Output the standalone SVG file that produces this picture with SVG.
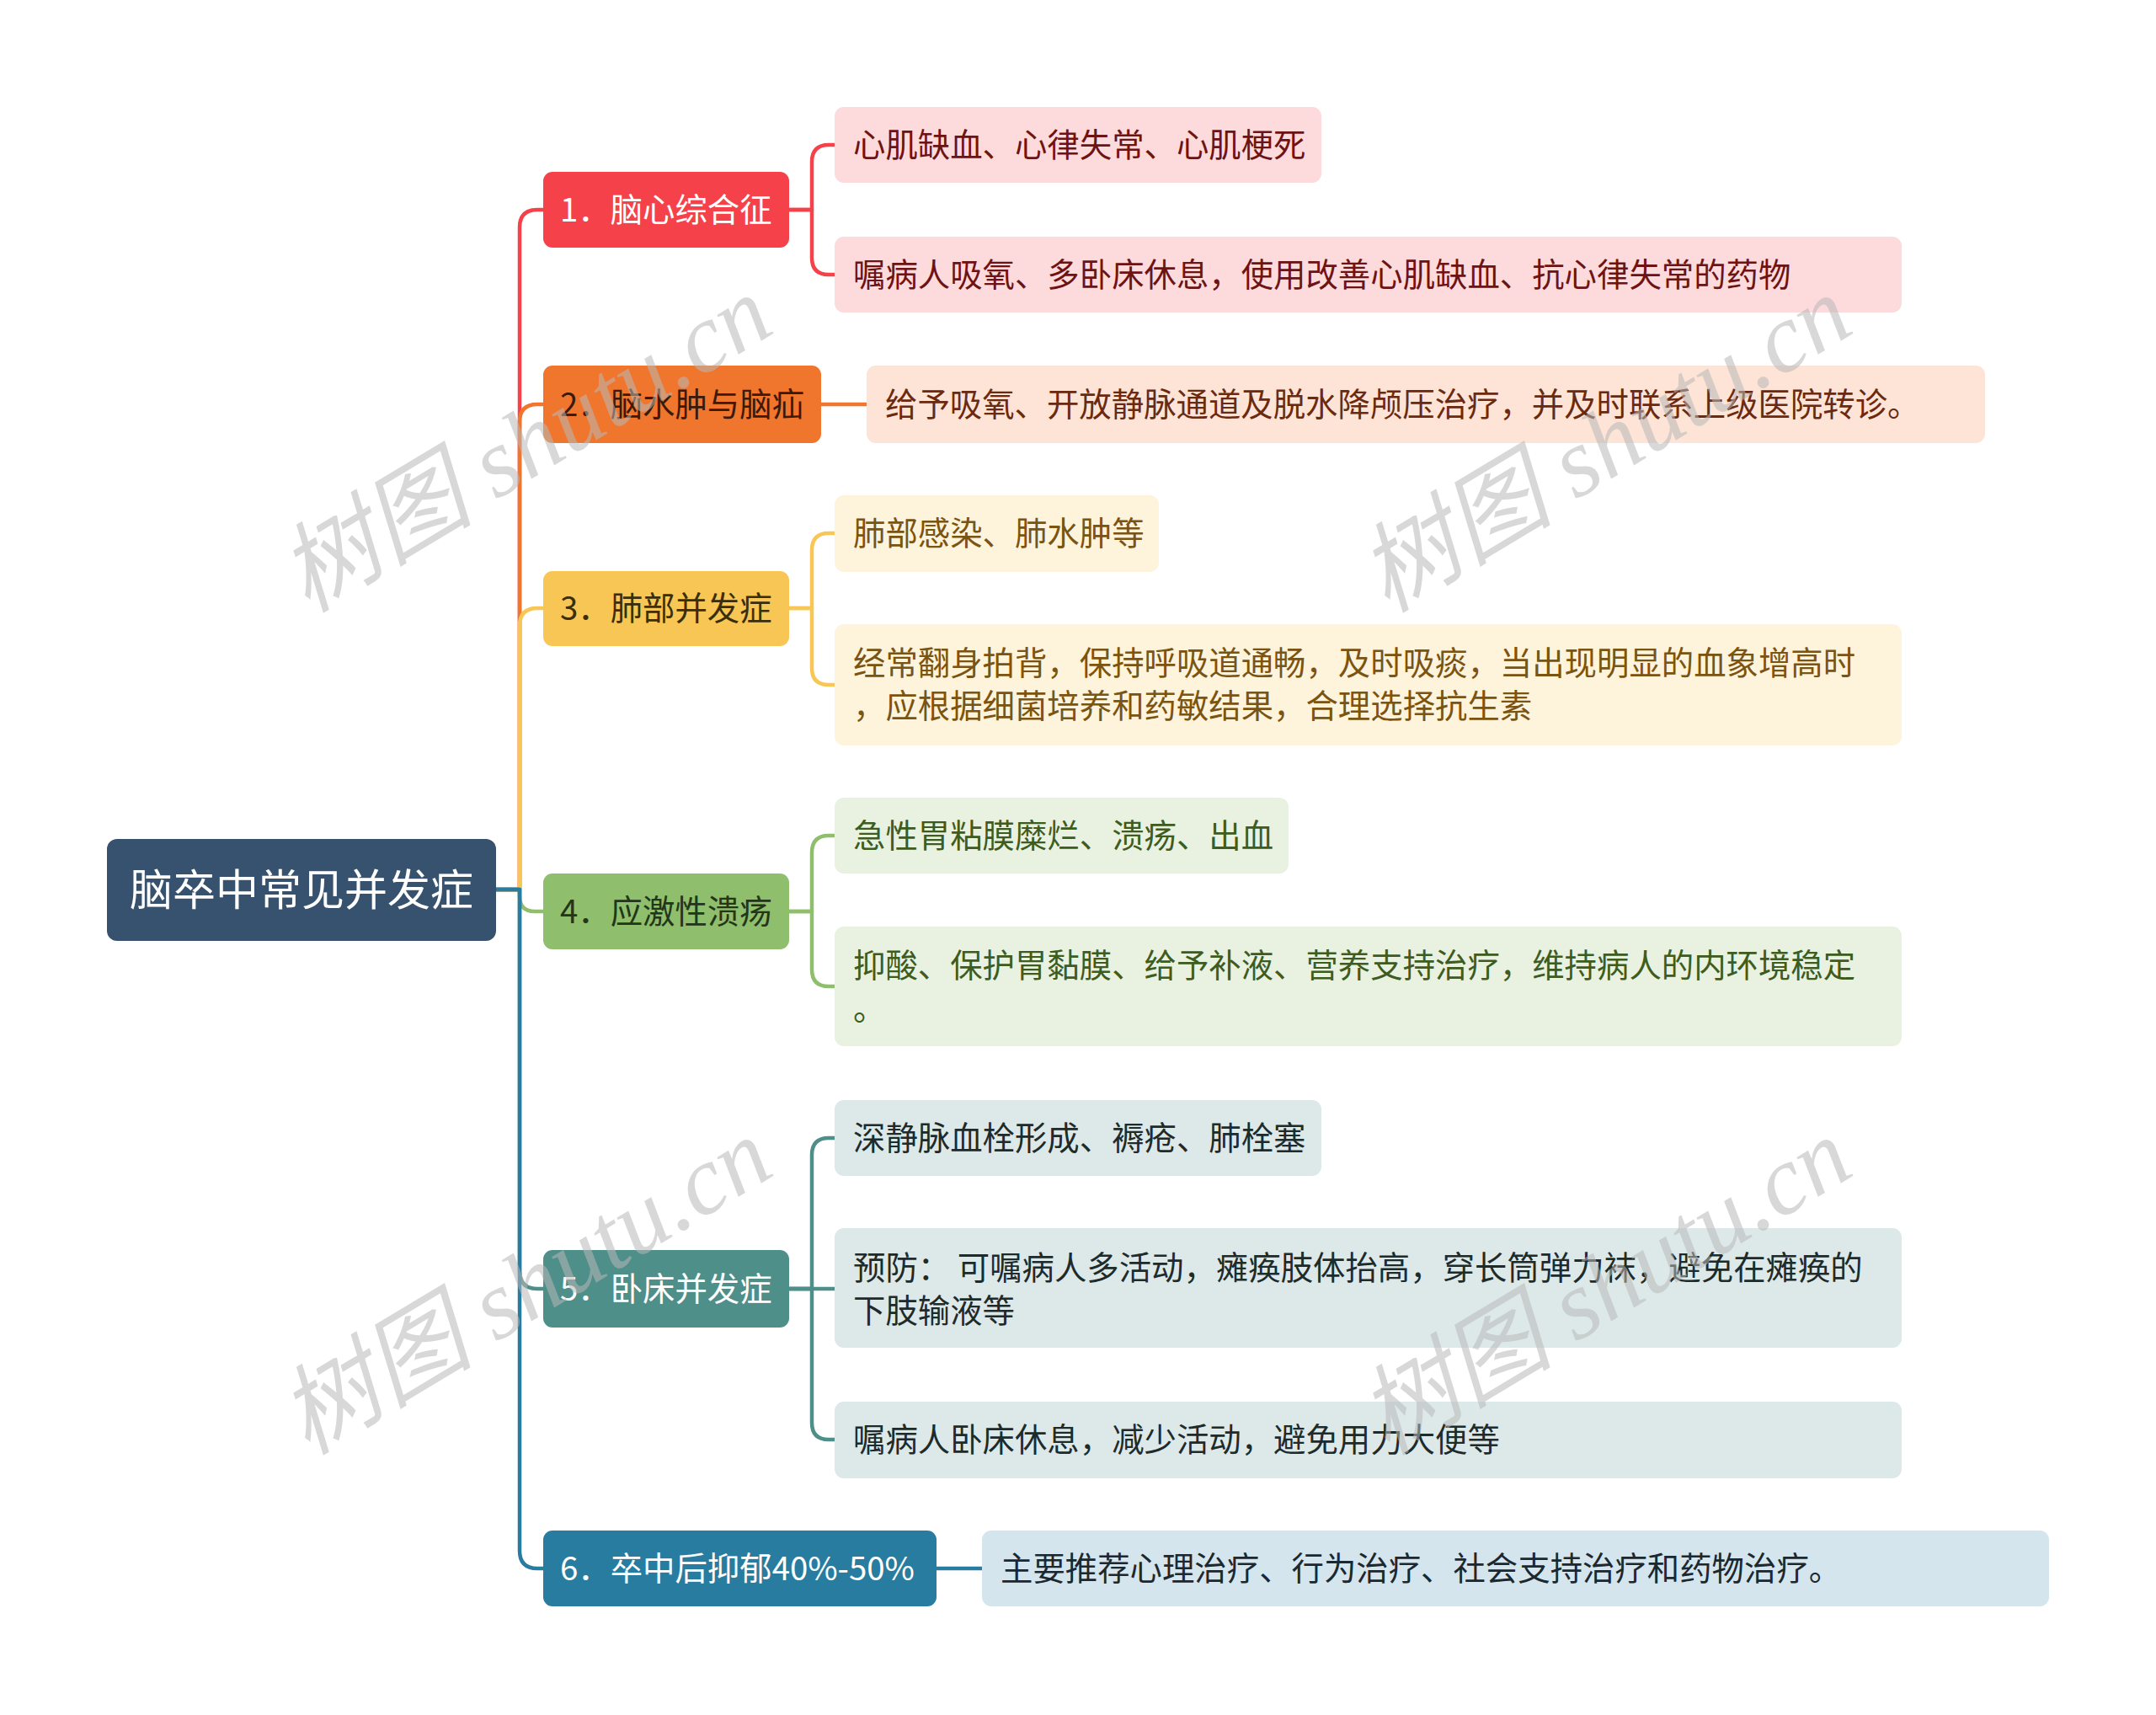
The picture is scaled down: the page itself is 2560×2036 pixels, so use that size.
<svg xmlns="http://www.w3.org/2000/svg" width="2560" height="2036" viewBox="0 0 2560 2036">
<style>
text{font-family:"Noto Sans CJK SC","Noto Sans",sans-serif;dominant-baseline:central}
.t{font-size:38.4px}
.root{font-size:51px;fill:#ffffff}
.c{fill:none;stroke-width:4.5;stroke-linecap:round;stroke-linejoin:round}
.wm{font-family:"Liberation Serif","Noto Sans CJK SC",serif;font-style:italic;font-size:116px;fill:#b8b8b8;fill-opacity:0.55}
</style>
<rect width="2560" height="2036" fill="#ffffff"/>
<g id="connectors">
<path class="c" stroke="#f5424a" d="M589,1056 H617 V270 Q617,249 638,249 H645"/>
<path class="c" stroke="#f0752d" d="M589,1056 H617 V501 Q617,480 638,480 H645"/>
<path class="c" stroke="#f7c654" d="M589,1056 H617 V743 Q617,722 638,722 H645"/>
<path class="c" stroke="#8fbe6c" d="M589,1056 H617 V1064 Q617,1082 635,1082 H645"/>
<path class="c" stroke="#4f8f8a" d="M589,1056 H617 V1509 Q617,1530 638,1530 H645"/>
<path class="c" stroke="#287ca0" d="M589,1056 H617 V1841 Q617,1862 638,1862 H645"/>
<path class="c" stroke="#f5424a" d="M937,249 H964 V192 Q964,172 984,172 H991"/>
<path class="c" stroke="#f5424a" d="M937,249 H964 V306 Q964,326 984,326 H991"/>
<path class="c" stroke="#f0752d" d="M975,480 H1029"/>
<path class="c" stroke="#f7c654" d="M937,722 H964 V653 Q964,633 984,633 H991"/>
<path class="c" stroke="#f7c654" d="M937,722 H964 V793 Q964,813 984,813 H991"/>
<path class="c" stroke="#8fbe6c" d="M937,1082 H964 V1012 Q964,992 984,992 H991"/>
<path class="c" stroke="#8fbe6c" d="M937,1082 H964 V1151 Q964,1171 984,1171 H991"/>
<path class="c" stroke="#4f8f8a" d="M937,1530 H964 V1371 Q964,1351 984,1351 H991"/>
<path class="c" stroke="#4f8f8a" d="M937,1530 H991"/>
<path class="c" stroke="#4f8f8a" d="M937,1530 H964 V1689 Q964,1709 984,1709 H991"/>
<path class="c" stroke="#287ca0" d="M1112,1862 H1166"/>
</g>
<g id="root">
<rect x="127" y="996" width="462" height="121" rx="12" fill="#37526e"/>
<text class="root" x="358" y="1053" text-anchor="middle">脑卒中常见并发症</text>
</g>
<g id="n1">
<rect x="645" y="204" width="292" height="90" rx="11" fill="#f5424a"/>
<text class="t" x="665" y="246" fill="#ffffff">1．脑心综合征</text>
</g>
<g id="n2">
<rect x="645" y="434" width="330" height="92" rx="11" fill="#f0752d"/>
<text class="t" x="665" y="477" fill="#3b1a0a">2．脑水肿与脑疝</text>
</g>
<g id="n3">
<rect x="645" y="678" width="292" height="89" rx="11" fill="#f7c654"/>
<text class="t" x="665" y="719" fill="#3b2e0a">3．肺部并发症</text>
</g>
<g id="n4">
<rect x="645" y="1037" width="292" height="90" rx="11" fill="#8fbe6c"/>
<text class="t" x="665" y="1079" fill="#23361a">4．应激性溃疡</text>
</g>
<g id="n5">
<rect x="645" y="1484" width="292" height="92" rx="11" fill="#4f8f8a"/>
<text class="t" x="665" y="1527" fill="#ffffff">5．卧床并发症</text>
</g>
<g id="n6">
<rect x="645" y="1817" width="467" height="90" rx="11" fill="#287ca0"/>
<text class="t" x="665" y="1859" fill="#ffffff">6．卒中后抑郁40%-50%</text>
</g>
<g id="l1a">
<rect x="991" y="127" width="578" height="90" rx="11" fill="#fddadc"/>
<text class="t" x="1013" y="169" fill="#6e1313">心肌缺血、心律失常、心肌梗死</text>
</g>
<g id="l1b">
<rect x="991" y="281" width="1267" height="90" rx="11" fill="#fddadc"/>
<text class="t" x="1013" y="323" fill="#6e1313">嘱病人吸氧、多卧床休息，使用改善心肌缺血、抗心律失常的药物</text>
</g>
<g id="l2">
<rect x="1029" y="434" width="1328" height="92" rx="11" fill="#fde4d6"/>
<text class="t" x="1051" y="477" fill="#6b2a10">给予吸氧、开放静脉通道及脱水降颅压治疗，并及时联系上级医院转诊。</text>
</g>
<g id="l3a">
<rect x="991" y="588" width="385" height="91" rx="11" fill="#fef3db"/>
<text class="t" x="1013" y="630" fill="#7a5410">肺部感染、肺水肿等</text>
</g>
<g id="l3b">
<rect x="991" y="741" width="1267" height="144" rx="11" fill="#fef3db"/>
<text class="t" x="1013" y="784" fill="#7a5410">经常翻身拍背，保持呼吸道通畅，及时吸痰，当出现明显的血象增高时</text>
<text class="t" x="1013" y="835" fill="#7a5410">，应根据细菌培养和药敏结果，合理选择抗生素</text>
</g>
<g id="l4a">
<rect x="991" y="947" width="539" height="90" rx="11" fill="#e9f1e0"/>
<text class="t" x="1013" y="989" fill="#3d5c1e">急性胃粘膜糜烂、溃疡、出血</text>
</g>
<g id="l4b">
<rect x="991" y="1100" width="1267" height="142" rx="11" fill="#e9f1e0"/>
<text class="t" x="1013" y="1143" fill="#3d5c1e">抑酸、保护胃黏膜、给予补液、营养支持治疗，维持病人的内环境稳定</text>
<text class="t" x="1013" y="1194" fill="#3d5c1e">。</text>
</g>
<g id="l5a">
<rect x="991" y="1306" width="578" height="90" rx="11" fill="#dde9e9"/>
<text class="t" x="1013" y="1348" fill="#1e2b2b">深静脉血栓形成、褥疮、肺栓塞</text>
</g>
<g id="l5b">
<rect x="991" y="1458" width="1267" height="142" rx="11" fill="#dde9e9"/>
<text class="t" x="1013" y="1502" fill="#1e2b2b">预防： 可嘱病人多活动，瘫痪肢体抬高，穿长筒弹力袜，避免在瘫痪的</text>
<text class="t" x="1013" y="1553" fill="#1e2b2b">下肢输液等</text>
</g>
<g id="l5c">
<rect x="991" y="1664" width="1267" height="91" rx="11" fill="#dde9e9"/>
<text class="t" x="1013" y="1706" fill="#1e2b2b">嘱病人卧床休息，减少活动，避免用力大便等</text>
</g>
<g id="l6">
<rect x="1166" y="1817" width="1267" height="90" rx="11" fill="#d4e5ed"/>
<text class="t" x="1188" y="1859" fill="#1c2830">主要推荐心理治疗、行为治疗、社会支持治疗和药物治疗。</text>
</g>
<g id="watermarks">
<text class="wm" transform="translate(345,695) rotate(-31)">树图 shutu.cn</text>
<text class="wm" transform="translate(1627,695) rotate(-31)">树图 shutu.cn</text>
<text class="wm" transform="translate(345,1695) rotate(-31)">树图 shutu.cn</text>
<text class="wm" transform="translate(1627,1695) rotate(-31)">树图 shutu.cn</text>
</g>
</svg>
